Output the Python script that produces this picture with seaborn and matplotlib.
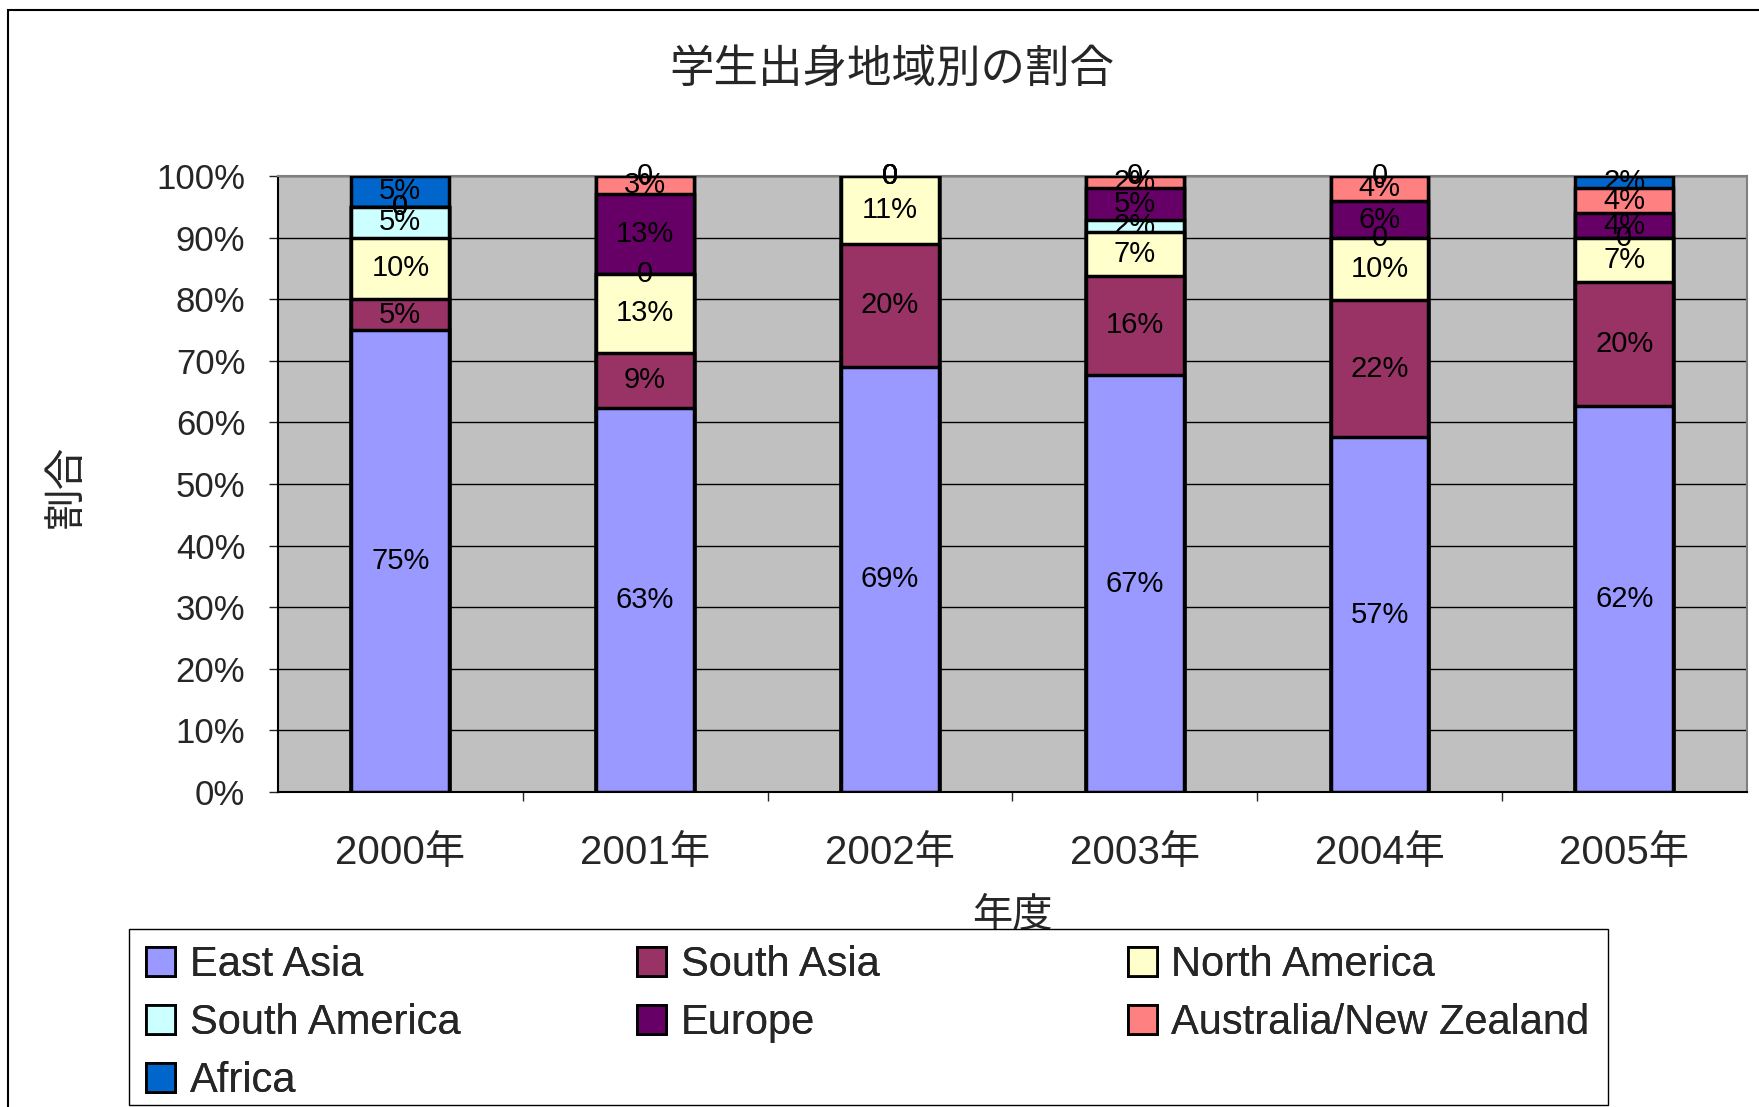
import numpy as np
import pandas as pd
import seaborn as sns
import matplotlib.pyplot as plt
from matplotlib.patches import Rectangle, Patch

years = ["2000年", "2001年", "2002年", "2003年", "2004年", "2005年"]
regions = ["East Asia", "South Asia", "North America", "South America",
           "Europe", "Australia/New Zealand", "Africa"]
east_asia = [75, 63, 69, 67, 57, 62]
south_asia = [5, 9, 20, 16, 22, 20]
north_america = [10, 13, 11, 7, 10, 7]
south_america = [5, 0, 0, 2, 0, 0]
europe = [0, 13, 0, 5, 6, 4]
australia_nz = [0, 3, 0, 2, 4, 4]
africa = [5, 0, 0, 0, 0, 2]
colors = ["#9999FF", "#993366", "#FFFFCC", "#CCFFFF", "#660066", "#FF8080", "#0066CC"]

sns.set_style("white")
plt.rcParams["font.family"] = ["Liberation Sans", "Noto Sans CJK JP"]

vals = np.array([east_asia, south_asia, north_america, south_america,
                 europe, australia_nz, africa], dtype=float)
pct = vals / vals.sum(axis=0) * 100
cum = pct.cumsum(axis=0)

fig = plt.figure(figsize=(17.59, 11.07), dpi=100)
ax = fig.add_axes([0.158, 0.2846, 0.835, 0.5564])
ax.set_facecolor("#C0C0C0")

# cumulative bars, top series first so the lower ones cover them
for i in range(len(regions) - 1, -1, -1):
    df = pd.DataFrame({"year": years, "cum": cum[i]})
    sns.barplot(data=df, x="year", y="cum", color=colors[i], width=0.4,
                edgecolor="black", linewidth=2.5, saturation=1, ax=ax, zorder=3)

# data labels
for i in range(len(regions)):
    for j in range(len(years)):
        bottom = cum[i][j] - pct[i][j]
        lab = "0" if vals[i][j] == 0 else f"{int(vals[i][j])}%"
        ax.text(j, bottom + pct[i][j] / 2, lab, ha="center", va="center",
                fontsize=21, color="black", zorder=5)

ax.set_ylim(0, 100)
ax.set_xlim(-0.5, len(years) - 0.5)
ax.set_yticks(np.arange(0, 101, 10))
ax.set_yticklabels([f"{t}%" for t in range(0, 101, 10)], fontsize=25)
ax.yaxis.grid(True, color="black", linewidth=1)
ax.set_axisbelow(True)
ax.tick_params(axis="y", length=6.5, width=1, direction="out", left=True, pad=17)
ax.tick_params(axis="x", labelsize=29, pad=30, length=0)
ax.set_xticks(np.arange(0.5, len(years) - 0.5), minor=True)
ax.tick_params(axis="x", which="minor", length=6.5, width=1, bottom=True, direction="out")
for s in ["left", "bottom"]:
    ax.spines[s].set_color("black")
    ax.spines[s].set_linewidth(1.5)
for s in ["top", "right"]:
    ax.spines[s].set_color("#808080")
    ax.spines[s].set_linewidth(1.5)

ax.set_xlabel("年度", fontsize=29, labelpad=18)
ax.set_ylabel("")
fig.text(0.038, 0.561, "割合", rotation=90, ha="center", va="center", fontsize=30)
fig.text(0.507, 0.937, "学生出身地域別の割合", ha="center", va="center", fontsize=32)

# legend: three columns placed by hand, one shared frame
columns = [[0, 3, 6], [1, 4], [2, 5]]
col_x = [0.083, 0.362, 0.641]
for cx, col in zip(col_x, columns):
    handles = [Patch(facecolor=colors[k], edgecolor="black", linewidth=2) for k in col]
    leg = fig.legend(handles, [regions[k] for k in col], loc="upper left",
                     bbox_to_anchor=(cx, 0.146), fontsize=30, frameon=False,
                     handlelength=0.7, handleheight=0.7, handletextpad=0.35,
                     labelspacing=0.43, borderpad=0, borderaxespad=0)
    fig.add_artist(leg)

fig.patches.append(Rectangle((0.0733, 0.0018), 0.914 - 0.0733, 0.161 - 0.0018,
                             transform=fig.transFigure, fill=False,
                             edgecolor="black", linewidth=1))

fig.patches.append(Rectangle((0.0045, -0.1), 1.2, 1.0 - 10 / 1107 + 0.1,
                             transform=fig.transFigure, fill=False,
                             edgecolor="black", linewidth=1.5))

fig.savefig("out.png", dpi=100)
